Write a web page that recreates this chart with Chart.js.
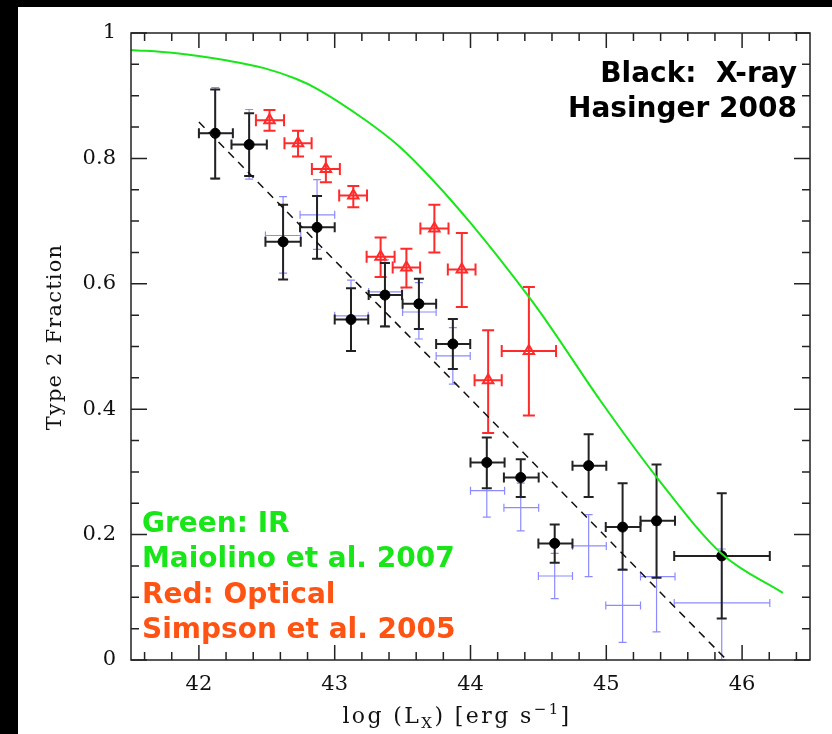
<!DOCTYPE html>
<html>
<head>
<meta charset="utf-8">
<script src="https://cdn.jsdelivr.net/npm/chart.js@4.4.1/dist/chart.umd.min.js"></script>
<style>
  html, body { margin: 0; padding: 0; background: #000; }
  canvas { display: block; }
</style>
</head>
<body>
<canvas id="chart" width="832" height="734"></canvas>
<script>
// X-ray (Hasinger 2008), black points
const xrayX = [42.12, 42.37, 42.62, 42.87, 43.12, 43.37, 43.62, 43.87, 44.12, 44.37, 44.62, 44.87, 45.12, 45.37, 45.85];
const xrayY = [0.840, 0.822, 0.667, 0.690, 0.543, 0.582, 0.568, 0.504, 0.315, 0.291, 0.186, 0.310, 0.212, 0.222, 0.166];
const xrayXLo = [42.00, 42.24, 42.49, 42.745, 43.00, 43.25, 43.50, 43.747, 44.00, 44.246, 44.50, 44.751, 44.996, 45.252, 45.50];
const xrayXHi = [42.25, 42.50, 42.75, 43.00, 43.247, 43.496, 43.747, 43.998, 44.251, 44.502, 44.751, 45.00, 45.252, 45.506, 46.204];
const xrayYLo = [0.768, 0.772, 0.607, 0.640, 0.493, 0.532, 0.528, 0.464, 0.274, 0.260, 0.155, 0.260, 0.144, 0.131, 0.066];
const xrayYHi = [0.910, 0.872, 0.726, 0.740, 0.593, 0.633, 0.608, 0.544, 0.355, 0.320, 0.216, 0.360, 0.282, 0.312, 0.266];

// second (blue) x-ray estimate, same bins
const blueY = [0.840, 0.822, 0.677, 0.710, 0.549, 0.587, 0.555, 0.485, 0.270, 0.243, 0.134, 0.182, 0.087, 0.133, 0.091];
const blueYLo = [0.767, 0.767, 0.617, 0.655, 0.493, 0.533, 0.512, 0.440, 0.228, 0.206, 0.098, 0.133, 0.028, 0.045, 0.000];
const blueYHi = [0.913, 0.878, 0.739, 0.766, 0.606, 0.638, 0.602, 0.530, 0.312, 0.282, 0.170, 0.232, 0.145, 0.215, 0.177];

// Optical (Simpson 2005), red triangles
const optX = [42.52, 42.73, 42.935, 43.137, 43.338, 43.528, 43.734, 43.936, 44.13, 44.43];
const optY = [0.861, 0.824, 0.783, 0.741, 0.643, 0.626, 0.688, 0.623, 0.446, 0.493];
const optXLo = [42.42, 42.63, 42.832, 43.033, 43.235, 43.427, 43.631, 43.833, 44.03, 44.23];
const optXHi = [42.627, 42.83, 43.038, 43.238, 43.441, 43.629, 43.838, 44.037, 44.23, 44.63];
const optYLo = [0.844, 0.803, 0.762, 0.722, 0.611, 0.594, 0.650, 0.563, 0.362, 0.390];
const optYHi = [0.877, 0.844, 0.803, 0.756, 0.674, 0.656, 0.726, 0.681, 0.526, 0.595];

// IR (Maiolino 2007), green curve
const irX = [41.5, 41.82, 42.21, 42.48, 42.714, 42.87, 43.22, 43.476, 43.72, 44.0, 44.43, 44.583, 44.952, 45.38, 45.852, 46.30];
const irY = [0.973, 0.968, 0.956, 0.944, 0.927, 0.911, 0.862, 0.819, 0.766, 0.697, 0.579, 0.533, 0.415, 0.289, 0.169, 0.107];

// dashed line
const fitX = [42.0, 45.887];
const fitY = [0.858, 0.0];

// tick positions (labels only on the major ones)
const xTicks = [41.6, 41.8, 42, 42.2, 42.4, 42.6, 42.8, 43, 43.2, 43.4, 43.6, 43.8, 44,
  44.2, 44.4, 44.6, 44.8, 45, 45.2, 45.4, 45.6, 45.8, 46, 46.2, 46.4];
const xLabels = [42, 43, 44, 45, 46];
const yTicks = [0, 0.05, 0.1, 0.15, 0.2, 0.25, 0.3, 0.35, 0.4, 0.45, 0.5, 0.55, 0.6,
  0.65, 0.7, 0.75, 0.8, 0.85, 0.9, 0.95, 1];
const yLabels = [0, 0.2, 0.4, 0.6, 0.8, 1];

const toPts = (xs, ys) => xs.map((x, i) => ({ x: x, y: ys[i] }));
const isLabel = (list, v) => list.some(l => Math.abs(l - v) < 1e-6);

// background: black strip, white page
const pagePlugin = {
  id: "page",
  beforeDraw(chart) {
    const ctx = chart.ctx;
    ctx.save();
    ctx.fillStyle = "#000";
    ctx.fillRect(0, 0, chart.width, chart.height);
    ctx.fillStyle = "#fff";
    ctx.fillRect(18, 7, chart.width - 18, chart.height - 7);
    ctx.restore();
  }
};

function drawBars(ctx, xs, ys, xLo, xHi, yLo, yHi, sx, sy, color, width, cap) {
  ctx.strokeStyle = color;
  ctx.lineWidth = width;
  for (let i = 0; i < xs.length; i++) {
    const px = sx.getPixelForValue(xs[i]);
    const py = sy.getPixelForValue(ys[i]);
    const x0 = sx.getPixelForValue(xLo[i]), x1 = sx.getPixelForValue(xHi[i]);
    const y0 = sy.getPixelForValue(yLo[i]), y1 = sy.getPixelForValue(yHi[i]);
    ctx.beginPath();
    ctx.moveTo(x0, py); ctx.lineTo(x1, py);
    ctx.moveTo(px, y0); ctx.lineTo(px, y1);
    // caps
    ctx.moveTo(x0, py - cap); ctx.lineTo(x0, py + cap);
    ctx.moveTo(x1, py - cap); ctx.lineTo(x1, py + cap);
    ctx.moveTo(px - cap, y0); ctx.lineTo(px + cap, y0);
    ctx.moveTo(px - cap, y1); ctx.lineTo(px + cap, y1);
    ctx.stroke();
  }
}

const errorBarPlugin = {
  id: "errorBars",
  beforeDatasetsDraw(chart) {
    const ctx = chart.ctx, sx = chart.scales.x, sy = chart.scales.y;
    ctx.save();
    drawBars(ctx, xrayX, blueY, xrayXLo, xrayXHi, blueYLo, blueYHi, sx, sy, "rgba(110,110,255,0.8)", 1.2, 4);
    drawBars(ctx, optX, optY, optXLo, optXHi, optYLo, optYHi, sx, sy, "#ff2a2a", 2, 6);
    drawBars(ctx, xrayX, xrayY, xrayXLo, xrayXHi, xrayYLo, xrayYHi, sx, sy, "#222", 2, 5);
    ctx.restore();
  }
};

// frame, inward ticks, axis titles, annotations
const framePlugin = {
  id: "frame",
  afterDraw(chart) {
    const ctx = chart.ctx, a = chart.chartArea;
    const sx = chart.scales.x, sy = chart.scales.y;
    ctx.save();
    ctx.strokeStyle = "#222";
    ctx.lineWidth = 1.5;
    ctx.strokeRect(a.left, a.top, a.right - a.left, a.bottom - a.top);
    ctx.beginPath();
    sx.ticks.forEach(t => {
      const px = sx.getPixelForValue(t.value);
      const len = isLabel(xLabels, t.value) ? 15 : 8;
      ctx.moveTo(px, a.bottom); ctx.lineTo(px, a.bottom - len);
      ctx.moveTo(px, a.top); ctx.lineTo(px, a.top + len);
    });
    sy.ticks.forEach(t => {
      const py = sy.getPixelForValue(t.value);
      const len = isLabel(yLabels, t.value) ? 16 : 8;
      ctx.moveTo(a.left, py); ctx.lineTo(a.left + len, py);
      ctx.moveTo(a.right, py); ctx.lineTo(a.right - len, py);
    });
    ctx.stroke();

    // y title
    ctx.fillStyle = "#111";
    ctx.font = "21px 'DejaVu Serif'";
    ctx.letterSpacing = "1.2px";
    ctx.textAlign = "center";
    ctx.textBaseline = "middle";
    ctx.translate(56, 337);
    ctx.rotate(-Math.PI / 2);
    ctx.fillText("Type 2 Fraction", 0, 0);
    ctx.setTransform(1, 0, 0, 1, 0, 0);

    // x title with sub/superscript
    ctx.textBaseline = "alphabetic";
    ctx.textAlign = "left";
    ctx.letterSpacing = "2.4px";
    const big = "22px 'DejaVu Serif'", small = "15px 'DejaVu Serif'";
    const parts = [["log (L", big, 0], ["X", small, 5], [") [erg s", big, 0], ["\u22121", small, -9], ["]", big, 0]];
    let total = 0;
    parts.forEach(p => { ctx.font = p[1]; total += ctx.measureText(p[0]).width; });
    let cx = 457 - total / 2;
    parts.forEach(p => {
      ctx.font = p[1];
      ctx.fillText(p[0], cx, 723 + p[2]);
      cx += ctx.measureText(p[0]).width;
    });
    ctx.letterSpacing = "0px";

    // annotations
    ctx.font = "bold 28px 'DejaVu Sans'";
    ctx.textAlign = "right";
    ctx.fillStyle = "#000";
    ctx.fillText("Black:  X-ray", 797, 82);
    ctx.fillText("Hasinger 2008", 797, 117);
    ctx.textAlign = "left";
    ctx.fillStyle = "#19e619";
    ctx.fillText("Green: IR", 142, 532);
    ctx.fillText("Maiolino et al. 2007", 142, 567);
    ctx.fillStyle = "#ff5314";
    ctx.fillText("Red: Optical", 142, 603);
    ctx.fillText("Simpson et al. 2005", 142, 638);
    ctx.restore();
  }
};

new Chart(document.getElementById("chart"), {
  type: "scatter",
  data: {
    datasets: [
      {
        data: toPts(irX, irY),
        showLine: true,
        borderColor: "#19e619",
        borderWidth: 2,
        pointRadius: 0,
        cubicInterpolationMode: "monotone"
      },
      {
        data: toPts(fitX, fitY),
        showLine: true,
        borderColor: "#111",
        borderWidth: 1.5,
        borderDash: [8, 6],
        pointRadius: 0
      },
      {
        data: toPts(optX, optY),
        pointStyle: "triangle",
        pointRadius: 6,
        borderColor: "#ff2a2a",
        backgroundColor: "rgba(0,0,0,0)",
        pointBorderWidth: 2
      },
      {
        data: toPts(xrayX, xrayY),
        pointRadius: 5,
        borderColor: "#000",
        backgroundColor: "#000",
        pointBorderWidth: 1
      }
    ]
  },
  options: {
    responsive: false,
    animation: false,
    layout: { padding: { left: 18, top: 33, right: 22, bottom: 0 } },
    plugins: { legend: { display: false }, tooltip: { enabled: false } },
    scales: {
      x: {
        type: "linear",
        min: 41.5,
        max: 46.5,
        grid: { display: false, drawTicks: false },
        border: { display: false },
        afterBuildTicks: s => { s.ticks = xTicks.map(v => ({ value: v })); },
        ticks: {
          autoSkip: false,
          maxRotation: 0,
          padding: 12,
          color: "#111",
          font: { family: "'DejaVu Serif'", size: 21 },
          callback: v => isLabel(xLabels, v) ? String(Math.round(v)) : ""
        },
        afterFit: s => { s.height = 74; }
      },
      y: {
        min: 0,
        max: 1,
        grid: { display: false, drawTicks: false },
        border: { display: false },
        afterBuildTicks: s => { s.ticks = yTicks.map(v => ({ value: v })); },
        ticks: {
          autoSkip: false,
          padding: 15,
          color: "#111",
          font: { family: "'DejaVu Serif'", size: 21 },
          callback: v => isLabel(yLabels, v) ? String(Math.round(v * 10) / 10) : ""
        },
        afterFit: s => { s.width = 113; }
      }
    }
  },
  plugins: [pagePlugin, errorBarPlugin, framePlugin]
});
</script>
</body>
</html>
